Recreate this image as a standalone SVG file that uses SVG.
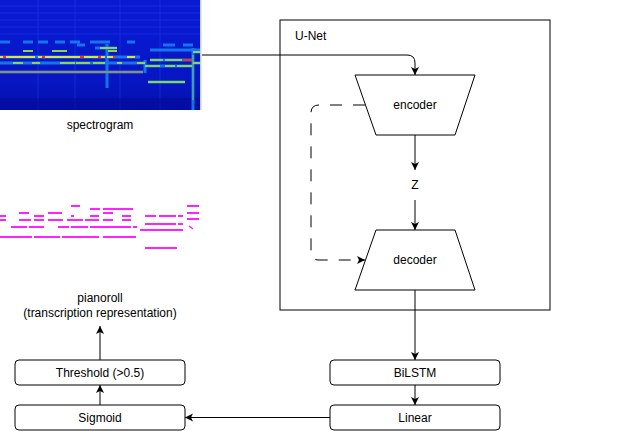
<svg xmlns="http://www.w3.org/2000/svg" width="630" height="431" viewBox="0 0 630 431">
<defs>
<style>
.t{font-family:"Liberation Sans",Arial,sans-serif;font-size:12px;fill:#000;text-anchor:middle}
.box{fill:#fff;stroke:#000;stroke-width:1}
.ln{fill:none;stroke:#000;stroke-width:1}
.pr{stroke:#ff22ff;stroke-width:2;fill:none}
.cy{stroke:#1e9cff;stroke-width:3;opacity:0.7}
.gr{stroke:#8fd44a;stroke-width:2}
.ye{stroke:#d8e83a;stroke-width:2}
</style>
<marker id="ah" markerWidth="10" markerHeight="10" refX="8" refY="4" orient="auto" markerUnits="userSpaceOnUse">
<path d="M0,0 L8,4 L0,8 L2,4 z" fill="#000"/>
</marker>
<linearGradient id="bg" x1="0" y1="0" x2="0" y2="1">
<stop offset="0" stop-color="#0a1ad4"/>
<stop offset="0.4" stop-color="#0818cc"/>
<stop offset="0.75" stop-color="#0616c2"/>
<stop offset="1" stop-color="#0410aa"/>
</linearGradient>
<filter id="bl" x="-5%" y="-50%" width="110%" height="200%"><feGaussianBlur stdDeviation="0.7"/></filter>
</defs>

<g id="spectrogram">
<rect x="0" y="0" width="200" height="110" fill="url(#bg)"/>
<g opacity="0.35" stroke="#2a50ff" stroke-width="1">
<line x1="0" y1="6" x2="200" y2="6"/>
<line x1="0" y1="13" x2="200" y2="13"/>
<line x1="0" y1="20" x2="200" y2="20"/>
<line x1="0" y1="27" x2="200" y2="27"/>
<line x1="0" y1="34" x2="200" y2="34"/>
<line x1="38" y1="0" x2="38" y2="110"/>
<line x1="75" y1="0" x2="75" y2="110"/>
<line x1="120" y1="0" x2="120" y2="110"/>
<line x1="160" y1="0" x2="160" y2="110"/>
</g>
<rect x="0" y="98" width="200" height="12" fill="#040c98" opacity="0.6"/>
<g filter="url(#bl)">
<g class="cy">
<line x1="0" y1="42" x2="10" y2="42"/><line x1="23" y1="42" x2="33" y2="42"/><line x1="38" y1="42" x2="48" y2="42"/>
<line x1="55" y1="42" x2="65" y2="42"/><line x1="70" y1="42" x2="80" y2="42"/><line x1="90" y1="42" x2="100" y2="42"/>
<line x1="100" y1="42" x2="110" y2="42"/><line x1="127" y1="42" x2="135" y2="42"/>
<line x1="77" y1="45" x2="85" y2="45"/><line x1="95" y1="48" x2="117" y2="48"/>
<line x1="150" y1="50" x2="200" y2="50"/><line x1="163" y1="45" x2="175" y2="45"/><line x1="183" y1="45" x2="193" y2="45"/>
<line x1="0" y1="57" x2="140" y2="57"/>
<line x1="0" y1="63" x2="145" y2="63"/>
<line x1="145" y1="66" x2="193" y2="66"/>
<line x1="150" y1="60" x2="193" y2="60"/>
<line x1="148" y1="82" x2="185" y2="82"/>
<line x1="193" y1="52" x2="200" y2="52"/><line x1="193" y1="63" x2="200" y2="63"/>
<line x1="0" y1="72" x2="143" y2="72"/>
<line x1="107" y1="44" x2="107" y2="88"/>
<line x1="145" y1="60" x2="145" y2="73"/>
<line x1="193" y1="48" x2="193" y2="110"/>
</g>
<g class="gr">
<line x1="23" y1="51" x2="33" y2="51"/><line x1="52" y1="51" x2="67" y2="51"/><line x1="108" y1="51" x2="117" y2="51"/>
<line x1="100" y1="48" x2="117" y2="48"/>
<line x1="13" y1="63" x2="23" y2="63"/><line x1="32" y1="63" x2="40" y2="63"/><line x1="60" y1="63" x2="75" y2="63"/>
<line x1="76" y1="63" x2="90" y2="63"/><line x1="93" y1="63" x2="105" y2="63"/><line x1="117" y1="63" x2="122" y2="63"/><line x1="137" y1="63" x2="145" y2="63"/>
<line x1="145" y1="66" x2="160" y2="66"/><line x1="165" y1="66" x2="175" y2="66"/><line x1="177" y1="66" x2="192" y2="66"/>
<line x1="150" y1="60" x2="163" y2="60"/><line x1="165" y1="60" x2="182" y2="60"/>
<line x1="148" y1="82" x2="185" y2="82"/>
<line x1="193" y1="52" x2="200" y2="52"/><line x1="193" y1="63" x2="200" y2="63"/>
<line x1="193" y1="55" x2="193" y2="100" stroke-width="1.2" opacity="0.7"/>
</g>
<g class="ye">
<line x1="0" y1="57" x2="35" y2="57"/><line x1="38" y1="57" x2="105" y2="57"/><line x1="107" y1="57" x2="115" y2="57"/><line x1="127" y1="57" x2="135" y2="57"/>
</g>
<g stroke="#ff3010" stroke-width="2">
<line x1="3" y1="57" x2="6" y2="57"/><line x1="42" y1="57" x2="45" y2="57"/><line x1="80" y1="57" x2="84" y2="57"/><line x1="98" y1="57" x2="101" y2="57"/><line x1="113" y1="57" x2="115" y2="57"/>
<line x1="183" y1="60" x2="192" y2="60"/>
</g>
<line x1="0" y1="72" x2="143" y2="72" stroke="#9a8a68" stroke-width="2"/>
</g>
<rect x="200" y="0" width="1.5" height="110" fill="#c8d0f0"/>
</g>
<g id="spectrogram-label"><text class="t" x="100" y="129">spectrogram</text></g>

<g id="pianoroll-image" class="pr">
<line x1="71" y1="206" x2="80" y2="206"/><line x1="187" y1="206" x2="199" y2="206"/>
<line x1="90" y1="209" x2="100" y2="209"/><line x1="103" y1="209" x2="133" y2="209"/>
<line x1="19" y1="213" x2="29" y2="213"/><line x1="48" y1="213" x2="62" y2="213"/><line x1="103" y1="213" x2="113" y2="213"/><line x1="187" y1="213" x2="199" y2="213"/>
<line x1="0" y1="216" x2="6" y2="216"/><line x1="34" y1="216" x2="44" y2="216"/><line x1="71" y1="216" x2="74" y2="216"/><line x1="90" y1="216" x2="99" y2="216"/><line x1="122" y1="216" x2="131" y2="216"/><line x1="145" y1="216" x2="156" y2="216"/><line x1="159" y1="216" x2="176" y2="216"/><line x1="178" y1="216" x2="183" y2="216"/>
<line x1="187" y1="219" x2="199" y2="219"/>
<line x1="0" y1="220" x2="6" y2="220"/><line x1="19" y1="220" x2="31" y2="220"/><line x1="34" y1="220" x2="44" y2="220"/><line x1="48" y1="220" x2="63" y2="220"/><line x1="67" y1="220" x2="83" y2="220"/><line x1="85" y1="220" x2="99" y2="220"/><line x1="103" y1="220" x2="113" y2="220"/><line x1="122" y1="220" x2="131" y2="220"/>
<line x1="145" y1="224" x2="176" y2="224"/><line x1="178" y1="224" x2="183" y2="224"/>
<line x1="11" y1="227" x2="27" y2="227"/><line x1="29" y1="227" x2="44" y2="227"/><line x1="58" y1="227" x2="69" y2="227"/><line x1="71" y1="227" x2="88" y2="227"/><line x1="90" y1="227" x2="131" y2="227"/><line x1="133" y1="227" x2="137" y2="227"/>
<line x1="189" y1="226" x2="193" y2="229" stroke-width="1.5"/>
<line x1="140" y1="230" x2="183" y2="230"/>
<line x1="0" y1="237" x2="32" y2="237"/><line x1="34" y1="237" x2="60" y2="237"/><line x1="62" y1="237" x2="99" y2="237"/><line x1="103" y1="237" x2="136" y2="237"/>
<line x1="145" y1="248" x2="177" y2="248"/>
</g>
<g id="pianoroll-label">
<text class="t" x="100" y="302">pianoroll</text>
<text class="t" x="100" y="317">(transcription representation)</text>
</g>

<g id="unet">
<rect x="280" y="20" width="270" height="290" fill="none" stroke="#000" stroke-width="1"/>
<text class="t" x="295" y="40" style="text-anchor:start">U-Net</text>
</g>
<g id="encoder">
<path class="box" d="M355,75 L475,75 L455,135 L376,135 Z"/>
<text class="t" x="415" y="109">encoder</text>
</g>
<g id="z"><text class="t" x="415" y="189">Z</text></g>
<g id="decoder">
<path class="box" d="M376,230 L455,230 L475,290 L355,290 Z"/>
<text class="t" x="415" y="264">decoder</text>
</g>
<g id="bilstm">
<rect class="box" x="330" y="360" width="170" height="25" rx="4"/>
<text class="t" x="415" y="377">BiLSTM</text>
</g>
<g id="linear">
<rect class="box" x="330" y="405" width="170" height="25" rx="4"/>
<text class="t" x="415" y="422">Linear</text>
</g>
<g id="threshold">
<rect class="box" x="15" y="360" width="170" height="25" rx="4"/>
<text class="t" x="100" y="377">Threshold (&gt;0.5)</text>
</g>
<g id="sigmoid">
<rect class="box" x="15" y="405" width="170" height="25" rx="4"/>
<text class="t" x="100" y="422">Sigmoid</text>
</g>

<g id="connectors">
<path class="ln" d="M202,55 L407,55 Q415,55 415,63 L415,75" marker-end="url(#ah)"/>
<path class="ln" d="M415,135 L415,170" marker-end="url(#ah)"/>
<path class="ln" d="M415,200 L415,230" marker-end="url(#ah)"/>
<path class="ln" d="M365,105 L319,105 Q311,105 311,113 L311,252 Q311,260 319,260 L365,260" stroke-dasharray="12 11" marker-end="url(#ah)"/>
<path class="ln" d="M415,290 L415,360" marker-end="url(#ah)"/>
<path class="ln" d="M415,385 L415,405" marker-end="url(#ah)"/>
<path class="ln" d="M330,417.5 L185,417.5" stroke="#808080" marker-end="url(#ah)"/>
<path class="ln" d="M100,405 L100,385" marker-end="url(#ah)"/>
<path class="ln" d="M100,360 L100,326" marker-end="url(#ah)"/>
</g>
</svg>
